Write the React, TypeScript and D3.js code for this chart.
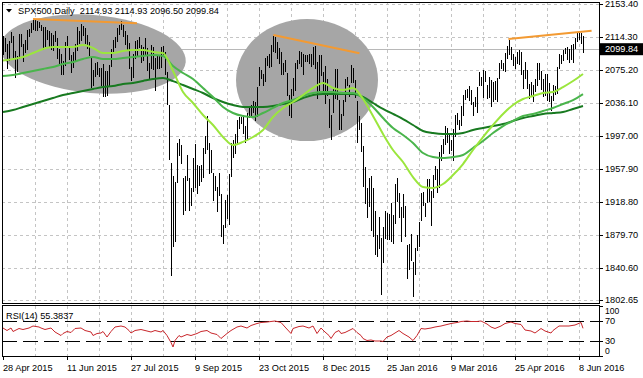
import React from "react";
import * as d3 from "d3";

// ---- bar data (daily high / low), one per bar, 28 Apr 2015 .. 10 Jun 2016
const highs = [
  2116,2113,2106,2109,2120,2115,2098,2092,2118,2118,2106,2111,2122,2124,2131,2134,2136,2133,2132,2128,
  2126,2126,2123,2121,2119,2117,2121,2113,2100,2094,2086,2108,2116,2103,2093,2097,2106,2126,2121,2130,
  2127,2125,2117,2108,2090,2075,2083,2085,2078,2078,2082,2074,2074,2081,2100,2111,2114,2125,2128,2133,
  2129,2121,2117,2107,2079,2094,2110,2111,2114,2105,2102,2113,2101,2083,2105,2103,2089,2093,2092,2103,
  2104,2096,2073,2034,1965,1950,1943,1989,1993,1986,1947,1949,1975,1947,1935,1971,1988,1963,1962,1963,
  1983,1997,2021,1989,1980,1953,1950,1937,1953,1928,1891,1921,1927,1952,1989,1992,1999,2016,2020,2019,
  2022,2009,2024,2033,2034,2039,2037,2055,2079,2075,2071,2090,2092,2094,2105,2116,2114,2108,2101,2096,
  2084,2087,2072,2045,2053,2066,2084,2087,2098,2096,2094,2093,2093,2094,2094,2103,2104,2085,2093,2093,
  2073,2080,2065,2041,2022,2053,2076,2076,2040,2023,2040,2064,2067,2057,2081,2077,2063,2038,2021,2012,
  1985,1960,1935,1947,1950,1935,1908,1880,1901,1876,1889,1908,1906,1904,1917,1903,1940,1947,1930,1913,
  1928,1914,1868,1869,1881,1848,1864,1880,1895,1930,1931,1918,1946,1946,1932,1951,1962,1958,1978,1986,
  1993,2009,2006,1999,1992,2005,2022,2024,2016,2032,2046,2052,2053,2056,2051,2037,2043,2055,2073,2067,
  2075,2074,2057,2067,2063,2061,2062,2066,2083,2087,2083,2095,2104,2111,2103,2094,2091,2096,2099,2097,
  2075,2085,2075,2059,2061,2058,2064,2084,2083,2074,2064,2071,2070,2060,2044,2058,2056,2079,2094,2093,
  2099,2101,2103,2100,2105,2106,2113,2119,2121,2119,2114.93
];
const lows = [
  2094,2098,2077,2087,2108,2088,2067,2074,2090,2104,2086,2097,2100,2115,2120,2124,2122,2122,2126,2122,
  2100,2104,2112,2104,2100,2099,2109,2090,2083,2071,2070,2081,2104,2088,2073,2079,2087,2099,2107,2111,
  2117,2107,2101,2093,2055,2057,2068,2071,2068,2058,2044,2044,2046,2056,2080,2095,2103,2110,2118,2124,
  2115,2106,2099,2077,2063,2067,2090,2093,2102,2085,2087,2094,2075,2064,2077,2076,2052,2078,2078,2079,
  2094,2070,2035,1970,1832,1867,1872,1942,1975,1965,1904,1909,1945,1909,1915,1932,1937,1930,1939,1944,
  1948,1977,1982,1953,1954,1921,1933,1908,1927,1879,1870,1889,1900,1893,1950,1972,1977,1987,2007,2012,
  2001,1990,1995,2020,2022,2026,2016,2021,2058,2066,2058,2062,2081,2079,2080,2098,2097,2090,2083,2071,
  2070,2074,2045,2022,2019,2045,2051,2077,2083,2080,2071,2086,2086,2084,2080,2082,2077,2042,2051,2069,
  2052,2036,2045,2008,1993,2025,2042,2041,2005,2005,2022,2038,2058,2044,2061,2061,2043,1990,2005,1979,
  1938,1918,1901,1914,1886,1878,1857,1855,1864,1810,1848,1876,1875,1875,1872,1870,1894,1920,1901,1872,
  1901,1878,1829,1839,1850,1807,1833,1862,1867,1898,1915,1902,1919,1920,1891,1925,1946,1931,1937,1969,
  1977,1987,1990,1977,1980,1969,1997,2011,2005,2010,2022,2041,2043,2040,2035,2022,2032,2026,2057,2057,
  2043,2062,2042,2043,2033,2039,2041,2038,2066,2078,2075,2074,2089,2094,2088,2081,2077,2084,2082,2071,
  2054,2066,2054,2042,2045,2039,2050,2058,2064,2053,2044,2046,2040,2038,2028,2040,2047,2048,2078,2084,
  2087,2095,2088,2085,2088,2085,2101,2110,2112,2107,2096.5
];

const titleText = "SPX500,Daily  2114.93 2114.93 2096.50 2099.84";
const bidPrice = 2099.84;

const priceTicks = [2153.40, 2114.30, 2075.20, 2036.10, 1997.00, 1957.90, 1918.80, 1879.70, 1840.60, 1802.65];

const dateLabels = ["28 Apr 2015", "11 Jun 2015", "27 Jul 2015", "9 Sep 2015", "23 Oct 2015",
  "8 Dec 2015", "25 Jan 2016", "9 Mar 2016", "25 Apr 2016", "8 Jun 2016"];
const dateLabelBars = [0, 32, 64, 96, 128, 160, 192, 224, 256, 288];
const gridBars = [16, 32, 48, 64, 80, 96, 112, 128, 144, 160, 176, 192, 208, 224, 240, 256, 272, 288];

// ---- moving averages, sampled every 5 bars
const maBars = d3.range(0, 291, 5);
const fastMA = [2086.4,2088.2,2090.6,2095.3,2100.1,2102.4,2102.4,2102.4,2104.8,2101.3,
  2095.3,2095.3,2097.7,2098.9,2098.9,2096.5,2095.3,2074.0,2049.1,2036.1,
  2021.9,2010.0,1995.8,1986.3,1990.0,1995.8,2004.1,2019.5,2030.2,2037.3,
  2045.6,2053.9,2059.8,2053.9,2051.5,2053.9,2040.8,2020.7,1999.4,1980.4,
  1966.2,1948.4,1936.6,1935.4,1940.1,1950.7,1963.8,1980.4,1995.8,2010.0,
  2023.1,2033.7,2040.8,2044.4,2047.9,2049.1,2055.0,2062.2,2070.5];
const midMA = [2068.1,2069.3,2071.6,2074.0,2076.4,2078.7,2082.3,2084.7,2088.2,2090.6,
  2088.2,2088.2,2089.4,2090.6,2091.8,2093.0,2091.8,2079.9,2071.6,2064.5,
  2053.9,2043.2,2031.4,2024.2,2020.7,2019.5,2024.2,2030.2,2036.1,2039.6,
  2044.4,2047.9,2049.1,2049.1,2047.9,2047.9,2042.0,2031.4,2018.3,2006.5,
  1998.2,1988.7,1976.8,1972.1,1970.9,1972.1,1974.5,1982.8,1991.1,2000.5,
  2008.8,2014.8,2020.7,2023.1,2026.6,2030.2,2034.9,2039.6,2046.7];
const slowMA = [2025.4,2027.8,2031.4,2034.9,2038.5,2042.0,2045.6,2047.9,2050.3,2052.7,
  2055.0,2056.2,2058.6,2059.8,2062.2,2064.5,2065.7,2062.0,2057.4,2052.7,
  2047.9,2042.0,2037.3,2033.7,2031.4,2031.4,2031.4,2032.5,2034.9,2037.3,
  2042.0,2045.6,2046.7,2046.7,2046.7,2046.7,2043.2,2036.1,2029.0,2023.1,
  2017.1,2010.0,2002.9,2000.5,1999.4,1999.4,2000.5,2004.1,2006.5,2008.8,
  2011.2,2014.8,2018.3,2020.7,2023.1,2024.2,2025.4,2029.0,2032.5];

// ---- RSI(14)
const rsiBars = [0,2,4,5,8,10,13,15,18,19,21,24,26,29,30,32,34,36,39,41,
  44,45,47,49,50,52,54,56,59,61,63,64,66,69,71,74,76,79,80,82,
  84,85,86,88,89,92,94,97,99,102,104,107,109,112,114,117,119,122,124,127,
  129,132,134,136,139,141,144,145,148,150,153,155,157,159,161,163,164,166,168,169,
  171,174,175,177,179,180,182,184,186,189,190,192,194,196,198,200,203,205,207,209,
  211,214,216,219,222,224,227,229,232,234,237,239,242,244,246,249,251,254,256,259,
  261,264,266,269,271,274,275,278,280,283,286,289,290];
const rsiValues = [56,51,56,49,55,53,56,60,58,56,53,56,48,41,45,49,47,55,56,51,
  48,41,45,46,49,38,49,58,60,58,51,46,51,53,51,48,51,48,51,41,
  27,18,31,41,38,43,41,45,49,51,46,43,35,45,51,58,60,56,61,65,
  67,68,69,70,67,58,45,55,59,60,56,60,45,56,48,41,35,47,51,45,
  47,53,55,47,41,35,31,32,30,30,29,38,41,46,51,45,38,31,41,55,
  54,56,58,60,63,65,67,69,70,69,69,70,64,58,55,60,65,68,65,63,
  52,50,46,55,50,46,51,60,60,60,62,67,55.38];
const rsiLabel = "RSI(14) 55.3837";
const rsiLevels = [70, 30];
const rsiAxisLabels = [100, 70, 30, 0];

// ---- drawn objects: [bar0, price0, bar1, price1]
const trendLines = [
  [15, 2135.6, 67, 2130.5],
  [135.2, 2116.7, 178.2, 2095.0],
  [252.7, 2111.9, 294.3, 2121.8],
];
// [centre bar, centre price, radius in bars, radius in price, rotation deg]
const ellipses = [
  [45, 2094.1, 46.5, 46.2, 5],
  [152, 2063.3, 35.5, 72.3, 0],
];

export default function App() {
  const W = 643, H = 378;
  const left = 2, right = 599, mainTop = 2, mainBottom = 303, rsiTop = 306, rsiBottom = 356;
  const x = d3.scaleLinear().domain([0, 298]).range([3, 599]);
  const y = d3.scaleLinear().domain([1802.65, 2153.40]).range([300, 4]);
  const yr = d3.scaleLinear().domain([0, 100]).range([rsiBottom, rsiTop]);
  const font = "'Liberation Sans', Arial, sans-serif";
  const fs = 9.2;
  const gridColor = "#c4c4c4";

  const maLine = d3.line<number>()
    .x((_, k) => x(maBars[k]))
    .y((d) => y(d))
    .curve(d3.curveMonotoneX);
  const rsiLine = d3.line<number>()
    .x((_, k) => x(rsiBars[k]))
    .y((d) => yr(d));

  const px = (v: number) => Math.round(v) + 0.5;

  return (
    <svg width={W} height={H} style={{ position: "absolute", left: 0, top: 0, background: "#fff" }}
      fontFamily={font} fontSize={fs}>
      <defs>
        <clipPath id="mainClip"><rect x={left} y={mainTop} width={right - left} height={mainBottom - mainTop} /></clipPath>
        <clipPath id="rsiClip"><rect x={left} y={rsiTop} width={right - left} height={rsiBottom - rsiTop} /></clipPath>
      </defs>
      <rect x={0} y={0} width={W} height={H} fill="#fff" />

      {/* main panel */}
      <g clipPath="url(#mainClip)">
        {gridBars.map((b) => (
          <line key={"vg" + b} x1={px(x(b))} x2={px(x(b))} y1={mainTop} y2={mainBottom}
            stroke={gridColor} strokeDasharray="3,3" />
        ))}
        {priceTicks.map((p) => (
          <line key={"hg" + p} x1={left} x2={right} y1={px(y(p))} y2={px(y(p))}
            stroke={gridColor} strokeDasharray="3,3" />
        ))}
        <line x1={left} x2={right} y1={px(y(bidPrice))} y2={px(y(bidPrice))} stroke="#b8b8b8" />
        {ellipses.map((e, k) => {
          const cx = x(e[0]), cy = y(e[1]);
          const rx = x(e[0] + e[2]) - cx, ry = y(e[1] - e[3]) - cy;
          return <ellipse key={"el" + k} cx={cx} cy={cy} rx={rx} ry={ry}
            transform={`rotate(${e[4]},${cx},${cy})`} fill="#a6a6a6" />;
        })}
        {highs.map((h, i) => (
          <line key={"b" + i} x1={px(x(i))} x2={px(x(i))} y1={Math.round(y(h))} y2={Math.round(y(lows[i])) + 1}
            stroke="#000" strokeWidth={1} shapeRendering="crispEdges" />
        ))}
        <path d={maLine(slowMA) || ""} fill="none" stroke="#187a20" strokeWidth={2} />
        <path d={maLine(midMA) || ""} fill="none" stroke="#4ab54c" strokeWidth={2} />
        <path d={maLine(fastMA) || ""} fill="none" stroke="#9be63d" strokeWidth={2} />
        {trendLines.map((t, k) => (
          <line key={"tl" + k} x1={x(t[0])} y1={y(t[1])} x2={x(t[2])} y2={y(t[3])}
            stroke="#f39a32" strokeWidth={2} />
        ))}
      </g>
      <rect x={left + 0.5} y={mainTop + 0.5} width={right - left} height={mainBottom - mainTop}
        fill="none" stroke="#000" />

      {/* title */}
      <path d="M6,9 L12,9 L9,12.5 Z" fill="#000" />
      <text x={18} y={14} style={{ whiteSpace: "pre" }} fill="#000">{titleText}</text>

      {/* price axis */}
      {priceTicks.map((p) => (
        <g key={"pt" + p}>
          <line x1={right} x2={right + 4} y1={px(y(p))} y2={px(y(p))} stroke="#000" />
          <text x={right + 6} y={y(p)} dy="0.35em" fill="#000">{p.toFixed(2)}</text>
        </g>
      ))}
      <rect x={right + 1} y={y(bidPrice) - 6} width={W - right - 1} height={12} fill="#000" />
      <text x={right + 6} y={y(bidPrice)} dy="0.35em" fill="#fff">{bidPrice.toFixed(2)}</text>

      {/* RSI panel */}
      <g clipPath="url(#rsiClip)">
        {gridBars.map((b) => (
          <line key={"rvg" + b} x1={px(x(b))} x2={px(x(b))} y1={rsiTop} y2={rsiBottom}
            stroke={gridColor} strokeDasharray="3,3" />
        ))}
        {rsiLevels.map((v) => (
          <line key={"lv" + v} x1={left} x2={right} y1={px(yr(v))} y2={px(yr(v))}
            stroke="#000" strokeDasharray="15,6" />
        ))}
        <path d={rsiLine(rsiValues) || ""} fill="none" stroke="#c8262b" strokeWidth={1} />
      </g>
      <rect x={left + 0.5} y={rsiTop - 0.5} width={right - left} height={rsiBottom - rsiTop + 1}
        fill="none" stroke="#000" />
      <text x={6} y={319} fill="#000">{rsiLabel}</text>
      {rsiAxisLabels.map((v) => {
        const ly = Math.min(Math.max(yr(v), rsiTop + 4.5), rsiBottom - 5);
        return (
          <g key={"ra" + v}>
            <line x1={right} x2={right + 4} y1={px(yr(v))} y2={px(yr(v))} stroke="#000" />
            <text x={right + 6} y={ly} dy="0.35em" fill="#000" fontSize={v === 100 || v === 0 ? 8.6 : fs}>{v}</text>
          </g>
        );
      })}

      {/* date axis */}
      {dateLabelBars.map((b, k) => (
        <g key={"dl" + b}>
          <line x1={px(x(b))} x2={px(x(b))} y1={rsiBottom} y2={rsiBottom + 4} stroke="#000" />
          <text x={x(b)} y={371} fill="#000">{dateLabels[k]}</text>
        </g>
      ))}
    </svg>
  );
}
